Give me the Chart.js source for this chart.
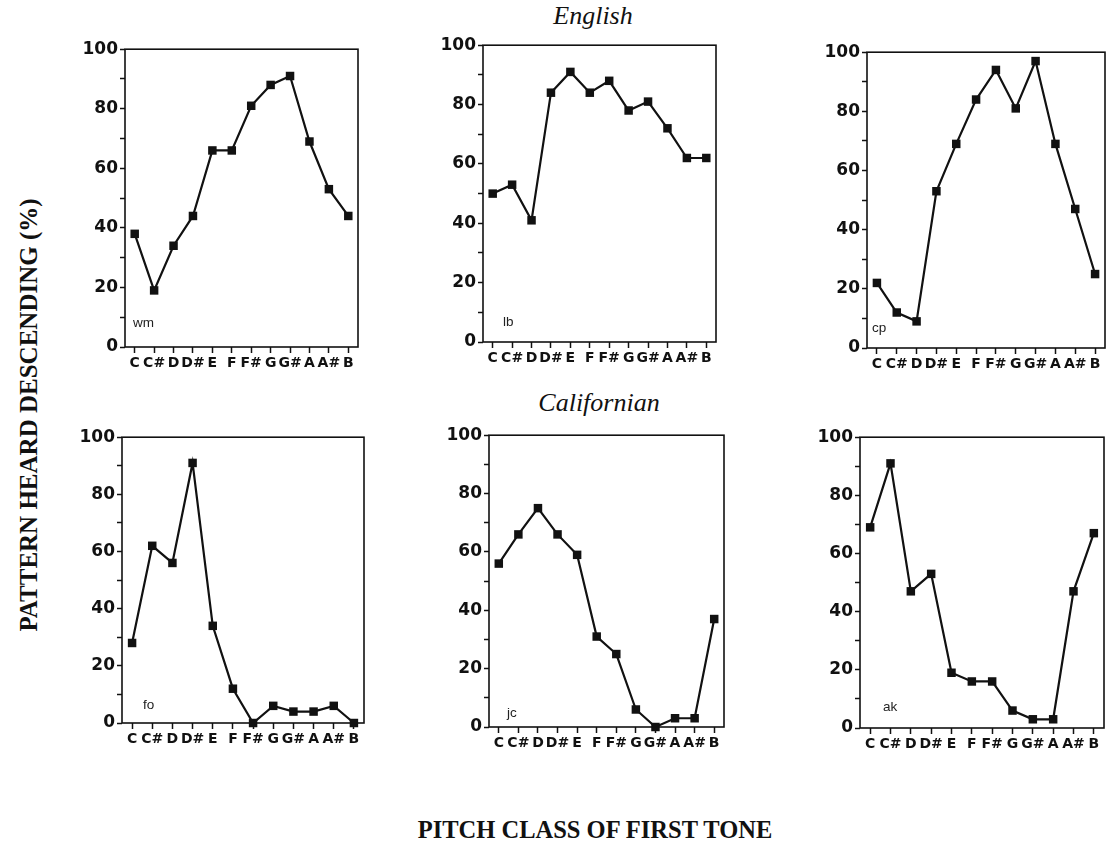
<!DOCTYPE html>
<html>
<head>
<meta charset="utf-8">
<script src="https://cdn.jsdelivr.net/npm/chart.js@4.4.1/dist/chart.umd.min.js"></script>
<style>
  html, body { margin: 0; padding: 0; background: #fff; }
  #page { position: relative; width: 1113px; height: 845px; overflow: hidden; background: #fff; }
  .panel { position: absolute; }
  .group-title {
    position: absolute; transform: translate(-50%, -50%);
    font-family: "Liberation Serif", serif; font-style: italic; font-size: 26px; color: #111; white-space: nowrap;
  }
  .axis-title {
    position: absolute; font-family: "Liberation Serif", serif; font-weight: bold; color: #111; white-space: nowrap;
  }
</style>
</head>
<body>
<div id="page">
  <div class="group-title" style="left:593px; top:16px;">English</div>
  <div class="group-title" style="left:599px; top:403px;">Californian</div>
  <div class="axis-title" style="left:29px; top:415px; font-size:25px; transform: translate(-50%, -50%) rotate(-90deg);">PATTERN HEARD DESCENDING (%)</div>
  <div class="axis-title" style="left:595px; top:830px; font-size:24.5px; transform: translate(-50%, -50%);">PITCH CLASS OF FIRST TONE</div>
</div>
<script>
// pitch class of the first tone
const pitchClasses = ['C', 'C#', 'D', 'D#', 'E', 'F', 'F#', 'G', 'G#', 'A', 'A#', 'B'];
const yTicks = [0, 20, 40, 60, 80, 100];

// percent of trials heard descending, per subject
const wm = [38, 19, 34, 44, 66, 66, 81, 88, 91, 69, 53, 44];
const lb = [50, 53, 41, 84, 91, 84, 88, 78, 81, 72, 62, 62];
const cp = [22, 12, 9, 53, 69, 84, 94, 81, 97, 69, 47, 25];
const fo = [28, 62, 56, 91, 34, 12, 0, 6, 4, 4, 6, 0];
const jc = [56, 66, 75, 66, 59, 31, 25, 6, 0, 3, 3, 37];
const ak = [69, 91, 47, 53, 19, 16, 16, 6, 3, 3, 47, 67];

// plot box (left, top, right, bottom) on the page, and where the subject tag sits
const panels = [
    { name: 'wm', values: wm, box: [125, 47, 358, 347], tag: [8, 24] },
    { name: 'lb', values: lb, box: [483, 43, 716, 342], tag: [20, 20] },
    { name: 'cp', values: cp, box: [867, 50, 1105, 348], tag: [5, 20] },
    { name: 'fo', values: fo, box: [122, 435, 364, 723], tag: [21, 18] },
    { name: 'jc', values: jc, box: [489, 433, 724, 727], tag: [18, 14] },
    { name: 'ak', values: ak, box: [860, 435, 1104, 728], tag: [23, 21] }
];

const Y_AXIS_W = 52;
const X_AXIS_H = 40;
const PAD_TOP = 10;
const PAD_RIGHT = 10;
const TICK_FONT = '"DejaVu Sans", "Liberation Sans", sans-serif';

/**
 * Draws the closed frame around the plot area and the subject initials
 */
const framePlugin = {
    id: 'frame',
    afterDatasetsDraw(chart, args, opts) {
        const { ctx, chartArea } = chart;
        ctx.save();
        ctx.strokeStyle = '#111';
        ctx.lineWidth = 1.6;
        ctx.strokeRect(chartArea.left, chartArea.top, chartArea.right - chartArea.left, chartArea.bottom - chartArea.top);
        ctx.fillStyle = '#222';
        ctx.font = '13.5px "Liberation Sans", Arial, sans-serif';
        ctx.textBaseline = 'middle';
        ctx.textAlign = 'left';
        ctx.fillText(opts.tag, chartArea.left + opts.dx, chartArea.bottom - opts.dy);
        ctx.restore();
    }
};

const page = document.getElementById('page');

panels.forEach((p) => {
    const [l, t, r, b] = p.box;
    const canvasW = (r - l) + Y_AXIS_W + PAD_RIGHT;
    const canvasH = (b - t) + PAD_TOP + X_AXIS_H;

    const holder = document.createElement('div');
    holder.className = 'panel';
    holder.style.left = (l - Y_AXIS_W) + 'px';
    holder.style.top = (t - PAD_TOP) + 'px';
    holder.style.width = canvasW + 'px';
    holder.style.height = canvasH + 'px';
    const canvas = document.createElement('canvas');
    holder.appendChild(canvas);
    page.appendChild(holder);

    new Chart(canvas, {
        type: 'line',
        data: {
            labels: pitchClasses,
            datasets: [{
                data: p.values,
                borderColor: '#111',
                backgroundColor: '#111',
                borderWidth: 2.2,
                tension: 0,
                pointStyle: 'rect',
                pointRadius: 6,
                pointBorderWidth: 0,
                clip: false
            }]
        },
        options: {
            responsive: true,
            maintainAspectRatio: false,
            animation: false,
            events: [],
            layout: { padding: { top: PAD_TOP, right: PAD_RIGHT, left: 0, bottom: 0 } },
            plugins: {
                legend: { display: false },
                tooltip: { enabled: false },
                frame: { tag: p.name, dx: p.tag[0], dy: p.tag[1] }
            },
            scales: {
                x: {
                    type: 'category',
                    offset: true,
                    afterFit: (scale) => { scale.height = X_AXIS_H; },
                    border: { display: false },
                    grid: {
                        drawOnChartArea: false,
                        drawTicks: true,
                        tickLength: 6,
                        tickWidth: 1.5,
                        tickColor: '#111',
                        offset: false
                    },
                    ticks: {
                        autoSkip: false,
                        maxRotation: 0,
                        minRotation: 0,
                        padding: 2,
                        color: '#111',
                        font: { family: TICK_FONT, size: 14, weight: 'bold' }
                    }
                },
                y: {
                    min: 0,
                    max: 100,
                    afterFit: (scale) => { scale.width = Y_AXIS_W; },
                    border: { display: false },
                    grid: {
                        drawOnChartArea: false,
                        drawTicks: true,
                        tickLength: 5,
                        tickWidth: 1.5,
                        tickColor: '#111'
                    },
                    ticks: {
                        stepSize: 10,
                        autoSkip: false,
                        padding: 2,
                        color: '#111',
                        font: { family: TICK_FONT, size: 17, weight: 'bold' },
                        callback: (v) => (yTicks.includes(v) ? v : '')
                    }
                }
            }
        },
        plugins: [framePlugin]
    });
});
</script>
</body>
</html>
